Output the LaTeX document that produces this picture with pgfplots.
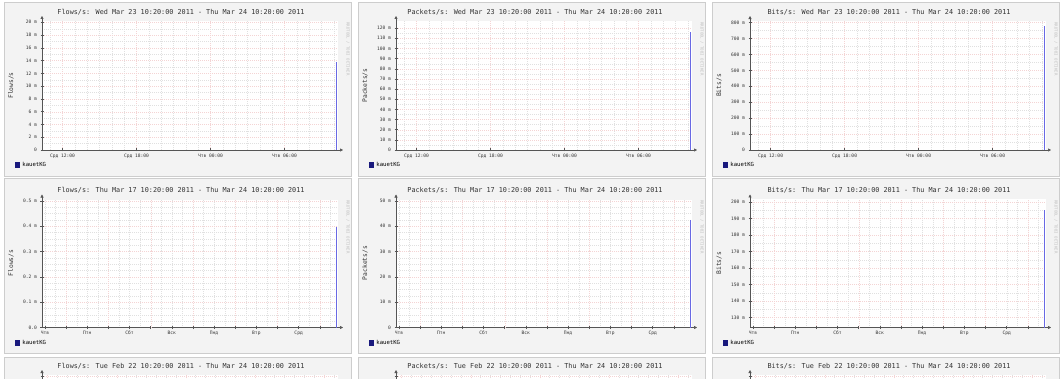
\documentclass[border=0pt]{standalone}
\usepackage{fontspec}
\setmainfont{DejaVu Sans Mono}
\usepackage{pgfplots}
\pgfplotsset{compat=1.18}
\usetikzlibrary{arrows.meta}
\definecolor{panelbg}{RGB}{243,243,243}
\definecolor{panelborder}{RGB}{205,205,205}
\definecolor{spikeblue}{RGB}{105,105,228}
\definecolor{legsq}{RGB}{25,25,125}
\definecolor{majgrid}{RGB}{244,212,212}
\definecolor{mingrid}{RGB}{224,224,224}
\definecolor{axcol}{RGB}{85,85,85}

\pgfplotsset{
  rrd/.style={
    scale only axis, width=296pt, height=129pt, anchor=south west,
    axis x line=bottom, axis y line=left,
    axis line style={draw=axcol, line width=0.5pt},
    x axis line style={-{Triangle[length=3pt,width=3pt]}, shorten >=-5pt},
    y axis line style={-{Triangle[length=3pt,width=3pt]}, shorten >=-5pt},
    tick style={draw=axcol, line width=0.4pt},
    major tick length=3pt, minor tick length=0pt, tick align=center,
    tick label style={font=\fontsize{4.6}{5}\selectfont, text=black!80},
    xticklabel style={yshift=1pt, text height=3.4pt, text depth=0.9pt},
    grid=both,
    major grid style={draw=majgrid, dash pattern=on 1pt off 1pt, line width=0.3pt},
    minor grid style={draw=mingrid, dash pattern=on 1pt off 1pt, line width=0.3pt},
    axis background/.style={fill=white},
    legend style={at={(-0.092,-0.118)}, anchor=west, draw=none, fill=none,
      inner sep=0pt, outer sep=0pt, font=\fontsize{5.6}{6}\selectfont},
    legend cell align=left,
  },
  day/.style={xmin=0, xmax=24,
    xtick={1.6667,7.6667,13.6667,19.6667},
    xticklabels={Срд 12:00,Срд 18:00,Чтв 00:00,Чтв 06:00},
    minor xtick={0.6667,1.6667,...,23.6667}},
  week/.style={xmin=0, xmax=168,
    xtick={1.6667,25.6667,49.6667,73.6667,97.6667,121.6667,145.6667},
    xticklabels={Чтв,Птн,Сбт,Вск,Пнд,Втр,Срд},
    xmajorgrids=false,
    extra x ticks={13.6667,37.6667,61.6667,85.6667,109.6667,133.6667,157.6667},
    extra x tick labels={},
    extra x tick style={grid=major},
    minor xtick={1.6667,7.6667,...,163.6667}},
  month/.style={xmin=0, xmax=720,
    xtick={13.6667,181.6667,349.6667,517.6667,685.6667},
    xticklabels={}, yticklabels={},
    minor xtick={13.6667,37.6667,...,709.6667}},
  spikeplot/.style={draw=spikeblue, line width=1.1pt,
    legend image code/.code={\fill[legsq] (0pt,-2.3pt) rectangle (4.6pt,2.5pt);}},
}

\begin{document}
\begin{tikzpicture}[x=1pt,y=1pt]
\useasboundingbox (0,0) rectangle (1063,378);
\clip (0,0) rectangle (1063,378);
\fill[white] (0,0) rectangle (1063,378);
\foreach \xo in {0,354,708}{
  \filldraw[fill=panelbg, draw=panelborder, line width=0.6pt] (\xo+4,202) rectangle (\xo+351,376);
  \filldraw[fill=panelbg, draw=panelborder, line width=0.6pt] (\xo+4,25) rectangle (\xo+351,200);
  \filldraw[fill=panelbg, draw=panelborder, line width=0.6pt] (\xo+4,-200) rectangle (\xo+351,21);
  \node[rotate=-90, font=\fontsize{4}{4.5}\selectfont, text=black!25] at (\xo+348,329) {RRDTOOL / TOBI OETIKER};
  \node[rotate=-90, font=\fontsize{4}{4.5}\selectfont, text=black!25] at (\xo+348,151) {RRDTOOL / TOBI OETIKER};
}
% titles
\begin{scope}[every node/.style={font=\fontsize{6.8}{7.5}\selectfont, text=black!80}]
\node at (181,366) {Flows/s: Wed Mar 23 10:20:00 2011 - Thu Mar 24 10:20:00 2011};
\node at (535,366) {Packets/s: Wed Mar 23 10:20:00 2011 - Thu Mar 24 10:20:00 2011};
\node at (889,366) {Bits/s: Wed Mar 23 10:20:00 2011 - Thu Mar 24 10:20:00 2011};
\node at (181,188) {Flows/s: Thu Mar 17 10:20:00 2011 - Thu Mar 24 10:20:00 2011};
\node at (535,188) {Packets/s: Thu Mar 17 10:20:00 2011 - Thu Mar 24 10:20:00 2011};
\node at (889,188) {Bits/s: Thu Mar 17 10:20:00 2011 - Thu Mar 24 10:20:00 2011};
\node at (181,12) {Flows/s: Tue Feb 22 10:20:00 2011 - Thu Mar 24 10:20:00 2011};
\node at (535,12) {Packets/s: Tue Feb 22 10:20:00 2011 - Thu Mar 24 10:20:00 2011};
\node at (889,12) {Bits/s: Tue Feb 22 10:20:00 2011 - Thu Mar 24 10:20:00 2011};
\end{scope}
% y labels
\begin{scope}[every node/.style={rotate=90, font=\fontsize{6.3}{7}\selectfont, text=black!80}]
\node at (11,292.5) {Flows/s};
\node at (365,292.5) {Packets/s};
\node at (719,292.5) {Bits/s};
\node at (11,115) {Flows/s};
\node at (365,115) {Packets/s};
\node at (719,115) {Bits/s};
\end{scope}

% ---------- row 1 (day) ----------
\begin{axis}[rrd, day, at={(42pt,228pt)},
  ymin=0, ymax=20.2, ytick={0,2,...,20},
  yticklabels={0,2 m,4 m,6 m,8 m,10 m,12 m,14 m,16 m,18 m,20 m},
  minor y tick num=1]
\addplot[spikeplot] coordinates {(23.9,0) (23.9,13.8)};
\addlegendentry{kauetKG}
\end{axis}
\begin{axis}[rrd, day, at={(396pt,228pt)},
  ymin=0, ymax=127, ytick={0,10,...,120},
  yticklabels={0,10 m,20 m,30 m,40 m,50 m,60 m,70 m,80 m,90 m,100 m,110 m,120 m},
  minor y tick num=1]
\addplot[spikeplot] coordinates {(23.9,0) (23.9,116.5)};
\addlegendentry{kauetKG}
\end{axis}
\begin{axis}[rrd, day, at={(750pt,228pt)},
  ymin=0, ymax=810, ytick={0,100,...,800},
  yticklabels={0,100 m,200 m,300 m,400 m,500 m,600 m,700 m,800 m},
  minor y tick num=1]
\addplot[spikeplot] coordinates {(23.9,0) (23.9,780)};
\addlegendentry{kauetKG}
\end{axis}

% ---------- row 2 (week) ----------
\begin{axis}[rrd, week, at={(42pt,50.5pt)}, height=128pt,
  legend style={at={(-0.092,-0.121)}},
  ymin=0, ymax=0.505, ytick={0,0.1,0.2,0.3,0.4,0.5},
  yticklabels={0.0,0.1 m,0.2 m,0.3 m,0.4 m,0.5 m},
  minor y tick num=3]
\addplot[spikeplot] coordinates {(167.3,0) (167.3,0.396)};
\addlegendentry{kauetKG}
\end{axis}
\begin{axis}[rrd, week, at={(396pt,50.5pt)}, height=128pt,
  legend style={at={(-0.092,-0.121)}},
  ymin=0, ymax=50.5, ytick={0,10,...,50},
  yticklabels={0,10 m,20 m,30 m,40 m,50 m},
  minor y tick num=3]
\addplot[spikeplot] coordinates {(167.3,0) (167.3,42.6)};
\addlegendentry{kauetKG}
\end{axis}
\begin{axis}[rrd, week, at={(750pt,50.5pt)}, height=128pt,
  legend style={at={(-0.092,-0.121)}},
  ymin=124, ymax=201.5, ytick={130,140,...,200},
  yticklabels={130 m,140 m,150 m,160 m,170 m,180 m,190 m,200 m},
  minor y tick num=1]
\addplot[spikeplot] coordinates {(167.3,124) (167.3,195.4)};
\addlegendentry{kauetKG}
\end{axis}

% ---------- row 3 (month, mostly cut off) ----------
\begin{axis}[rrd, month, at={(42pt,-126pt)},
  ymin=0, ymax=20.2, ytick={0,5,...,20}, minor y tick num=1]
\addplot[spikeplot] coordinates {(719,0) (719,4.6)};
\end{axis}
\begin{axis}[rrd, month, at={(396pt,-126pt)},
  ymin=0, ymax=40.4, ytick={0,10,...,40}, minor y tick num=1]
\addplot[spikeplot] coordinates {(719,0) (719,11.2)};
\end{axis}
\begin{axis}[rrd, month, at={(750pt,-126pt)},
  ymin=0, ymax=202, ytick={0,50,...,200}, minor y tick num=1]
\addplot[spikeplot] coordinates {(719,0) (719,62)};
\end{axis}
\end{tikzpicture}
\end{document}
